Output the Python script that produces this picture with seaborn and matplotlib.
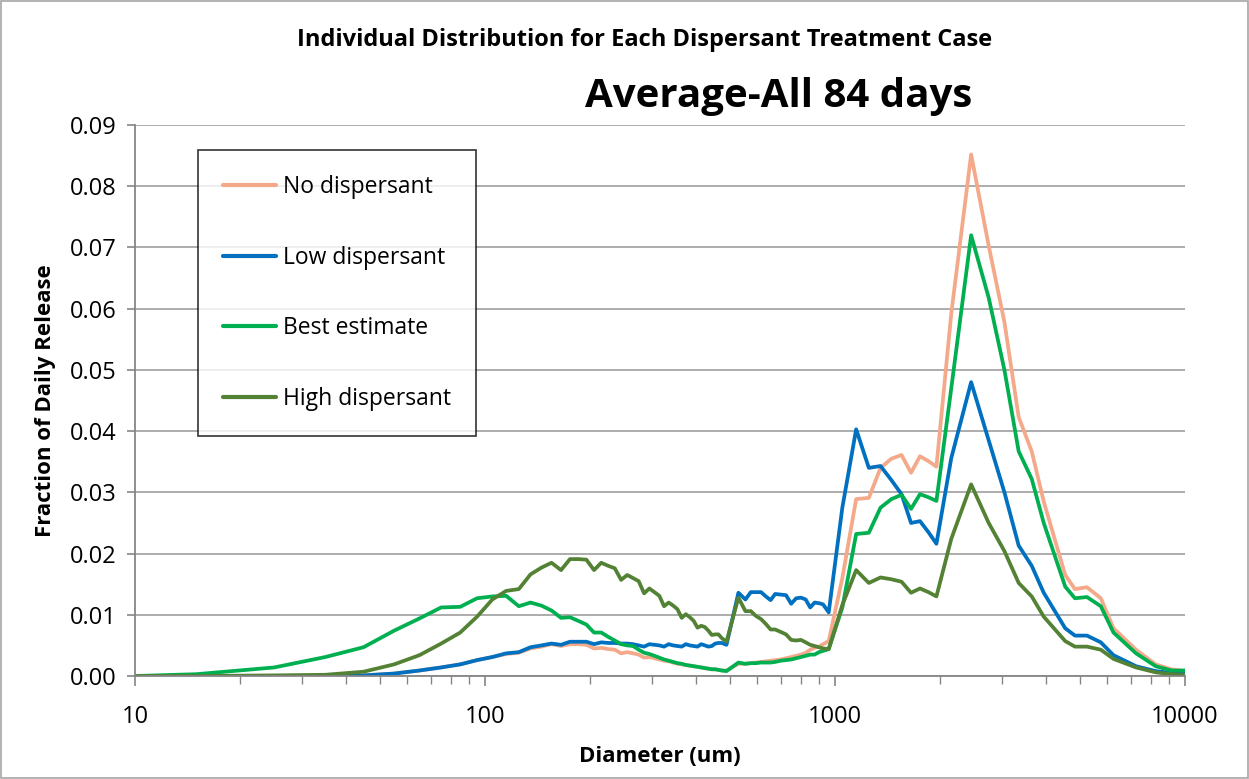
import matplotlib
matplotlib.use("Agg")
import matplotlib.pyplot as plt
from matplotlib.ticker import FixedLocator, FixedFormatter, LogLocator, NullFormatter
from matplotlib.patches import Rectangle
import pandas as pd
import seaborn as sns

# Droplet diameter (um) at which each fraction is reported
diameter_um = [
    10, 15, 25, 35, 45, 55, 65, 75, 85, 95,
    105, 115, 125, 135, 145, 155, 165, 175, 185, 195,
    205, 215, 225, 235, 245, 255, 265, 275, 285, 295,
    305, 315, 325, 335, 345, 355, 365, 375, 385, 395,
    405, 415, 425, 435, 445, 455, 465, 475, 490, 530,
    555, 575, 595, 615, 635, 655, 675, 700, 725, 750,
    775, 800, 825, 850, 875, 900, 925, 960,
    1050, 1150, 1250, 1350, 1450, 1550, 1650, 1750, 1850, 1950,
    2150, 2450, 2750, 3050, 3350, 3650, 3950, 4550, 4850, 5250,
    5750, 6250, 7250, 8250, 9150, 10000,
]

no_dispersant = [
    0.0000, 0.0000, 0.0000, 0.0000, 0.0001, 0.0004, 0.0009, 0.0014, 0.0019, 0.0026,
    0.0031, 0.0036, 0.0038, 0.0045, 0.0048, 0.0052, 0.0049, 0.0052, 0.0052, 0.0051,
    0.0045, 0.0046, 0.0044, 0.0043, 0.0037, 0.0039, 0.0037, 0.0035, 0.0030, 0.0031,
    0.0029, 0.0027, 0.0025, 0.0024, 0.0022, 0.0020, 0.0019, 0.0018, 0.0017, 0.0016,
    0.0015, 0.0014, 0.0013, 0.0012, 0.0011, 0.0011, 0.0010, 0.0009, 0.0009, 0.0020,
    0.0020, 0.0021, 0.0022, 0.0023, 0.0024, 0.0025, 0.0026, 0.0027, 0.0029, 0.0031,
    0.0033, 0.0035, 0.0038, 0.0043, 0.0046, 0.0048, 0.0052, 0.0057,
    0.0160, 0.0289, 0.0291, 0.0340, 0.0355, 0.0361, 0.0332, 0.0359, 0.0351, 0.0342,
    0.0592, 0.0852, 0.0703, 0.0578, 0.0423, 0.0367, 0.0285, 0.0165, 0.0142, 0.0145,
    0.0127, 0.0078, 0.0043, 0.0019, 0.0011, 0.0008,
]

low_dispersant = [
    0.0000, 0.0000, 0.0000, 0.0000, 0.0001, 0.0004, 0.0009, 0.0014, 0.0019, 0.0026,
    0.0031, 0.0037, 0.0039, 0.0047, 0.0050, 0.0053, 0.0051, 0.0056, 0.0056, 0.0056,
    0.0052, 0.0055, 0.0054, 0.0054, 0.0053, 0.0053, 0.0052, 0.0050, 0.0048, 0.0052,
    0.0051, 0.0050, 0.0048, 0.0052, 0.0050, 0.0049, 0.0048, 0.0052, 0.0050, 0.0049,
    0.0048, 0.0052, 0.0050, 0.0048, 0.0049, 0.0053, 0.0054, 0.0054, 0.0051, 0.0136,
    0.0125, 0.0137, 0.0137, 0.0137, 0.0130, 0.0124, 0.0134, 0.0133, 0.0132, 0.0118,
    0.0127, 0.0128, 0.0125, 0.0112, 0.0120, 0.0119, 0.0117, 0.0104,
    0.0275, 0.0403, 0.0340, 0.0343, 0.0320, 0.0297, 0.0250, 0.0253, 0.0235, 0.0216,
    0.0356, 0.0480, 0.0385, 0.0300, 0.0213, 0.0180, 0.0136, 0.0078, 0.0066, 0.0066,
    0.0055, 0.0034, 0.0016, 0.0008, 0.0005, 0.0004,
]

best_estimate = [
    0.0000, 0.0003, 0.0014, 0.0031, 0.0047, 0.0074, 0.0094, 0.0112, 0.0113, 0.0127,
    0.0130, 0.0131, 0.0114, 0.0120, 0.0115, 0.0107, 0.0095, 0.0096, 0.0090, 0.0084,
    0.0071, 0.0071, 0.0064, 0.0058, 0.0052, 0.0050, 0.0049, 0.0043, 0.0038, 0.0036,
    0.0033, 0.0030, 0.0027, 0.0025, 0.0023, 0.0021, 0.0020, 0.0018, 0.0017, 0.0016,
    0.0015, 0.0014, 0.0013, 0.0012, 0.0011, 0.0011, 0.0010, 0.0009, 0.0008, 0.0022,
    0.0020, 0.0021, 0.0021, 0.0022, 0.0022, 0.0022, 0.0023, 0.0025, 0.0026, 0.0027,
    0.0029, 0.0031, 0.0033, 0.0035, 0.0035, 0.0039, 0.0041, 0.0044,
    0.0112, 0.0232, 0.0234, 0.0275, 0.0289, 0.0296, 0.0273, 0.0297, 0.0292, 0.0286,
    0.0470, 0.0720, 0.0618, 0.0500, 0.0367, 0.0322, 0.0250, 0.0146, 0.0127, 0.0129,
    0.0114, 0.0071, 0.0037, 0.0016, 0.0009, 0.0009,
]

high_dispersant = [
    0.0000, 0.0000, 0.0001, 0.0002, 0.0007, 0.0019, 0.0034, 0.0053, 0.0071, 0.0097,
    0.0125, 0.0139, 0.0142, 0.0166, 0.0177, 0.0185, 0.0173, 0.0191, 0.0191, 0.0190,
    0.0173, 0.0185, 0.0180, 0.0176, 0.0157, 0.0165, 0.0160, 0.0155, 0.0135, 0.0143,
    0.0137, 0.0131, 0.0114, 0.0120, 0.0115, 0.0109, 0.0095, 0.0101, 0.0096, 0.0090,
    0.0079, 0.0082, 0.0080, 0.0074, 0.0067, 0.0068, 0.0068, 0.0062, 0.0056, 0.0128,
    0.0106, 0.0106, 0.0098, 0.0093, 0.0085, 0.0076, 0.0076, 0.0072, 0.0068, 0.0059,
    0.0058, 0.0059, 0.0055, 0.0051, 0.0049, 0.0047, 0.0045, 0.0044,
    0.0116, 0.0173, 0.0152, 0.0161, 0.0158, 0.0154, 0.0136, 0.0143, 0.0137, 0.0130,
    0.0224, 0.0313, 0.0250, 0.0204, 0.0152, 0.0130, 0.0097, 0.0057, 0.0048, 0.0048,
    0.0043, 0.0028, 0.0014, 0.0006, 0.0003, 0.0002,
]

case_names = ["No dispersant", "Low dispersant", "Best estimate", "High dispersant"]
case_colors = ["#F4AA8A", "#0070C0", "#00B050", "#548235"]
y_ticks = [0.00, 0.01, 0.02, 0.03, 0.04, 0.05, 0.06, 0.07, 0.08, 0.09]
y_tick_labels = ["0.00", "0.01", "0.02", "0.03", "0.04", "0.05", "0.06", "0.07", "0.08", "0.09"]
x_ticks = [10, 100, 1000, 10000]
x_tick_labels = ["10", "100", "1000", "10000"]

frames = []
for name, values in zip(case_names, [no_dispersant, low_dispersant, best_estimate, high_dispersant]):
    frames.append(pd.DataFrame({"Diameter": diameter_um, "Fraction": values, "Case": name}))
df = pd.concat(frames, ignore_index=True)

sns.set_style("white")
plt.rcParams["font.family"] = ["Open Sans", "DejaVu Sans"]
plt.rcParams["text.color"] = "black"
plt.rcParams["axes.labelcolor"] = "black"
plt.rcParams["xtick.color"] = "black"
plt.rcParams["ytick.color"] = "black"

fig = plt.figure(figsize=(12.49, 7.79), dpi=100)
fig.patches.append(Rectangle((0.0005, 0.0008), 0.999, 0.9984, transform=fig.transFigure,
                             fill=False, edgecolor="#A6A6A6", linewidth=1.2))
ax = fig.add_axes([0.108, 0.1322, 0.8407, 0.7073])

sns.lineplot(data=df, x="Diameter", y="Fraction", hue="Case", hue_order=case_names,
             palette=case_colors, linewidth=2.7, estimator=None, ax=ax)

ax.set_xscale("log")
ax.set_xlim(10, 10000)
ax.set_ylim(0, 0.09)

ax.yaxis.set_major_locator(FixedLocator(y_ticks))
ax.yaxis.set_major_formatter(FixedFormatter(y_tick_labels))
ax.xaxis.set_major_locator(FixedLocator(x_ticks))
ax.xaxis.set_major_formatter(FixedFormatter(x_tick_labels))
ax.xaxis.set_minor_locator(LogLocator(base=10, subs=range(2, 10)))
ax.xaxis.set_minor_formatter(NullFormatter())

ax.tick_params(axis="y", which="major", direction="out", length=6, width=1.2,
               color="#868686", labelcolor="black", labelsize=17, pad=7, left=True)
ax.tick_params(axis="x", which="major", direction="out", length=7, width=1.2,
               color="#868686", labelcolor="black", labelsize=17, pad=14, bottom=True)
ax.tick_params(axis="x", which="minor", direction="out", length=6, width=1.0,
               color="#868686", bottom=True)

ax.grid(axis="y", color="#A6A6A6", linewidth=1.3)
ax.grid(axis="x", visible=False)
ax.set_axisbelow(True)
for side in ["top", "right"]:
    ax.spines[side].set_visible(False)
for side in ["left", "bottom"]:
    ax.spines[side].set_color("#868686")
    ax.spines[side].set_linewidth(1.3)

ax.set_xlabel("Diameter (um)", fontsize=16, fontweight="bold", labelpad=12)
ax.set_ylabel("Fraction of Daily Release", fontsize=16, fontweight="bold", labelpad=10)

fig.text(0.516, 0.949, "Individual Distribution for Each Dispersant Treatment Case",
         ha="center", va="center", fontsize=17, fontweight="bold")
fig.text(0.623, 0.876, "Average-All 84 days", ha="center", va="center",
         fontsize=29, fontweight="bold")

leg = ax.legend(loc="upper left", bbox_to_anchor=(0.06, 0.9546), borderaxespad=0,
                fontsize=16.5, frameon=True, fancybox=False, edgecolor="black",
                labelspacing=2.03, borderpad=1.1, handlelength=2.3, handletextpad=0.3)
leg.get_frame().set_linewidth(1.2)
for line in leg.get_lines():
    line.set_linewidth(3.0)

fig.savefig("out.png", dpi=100)
